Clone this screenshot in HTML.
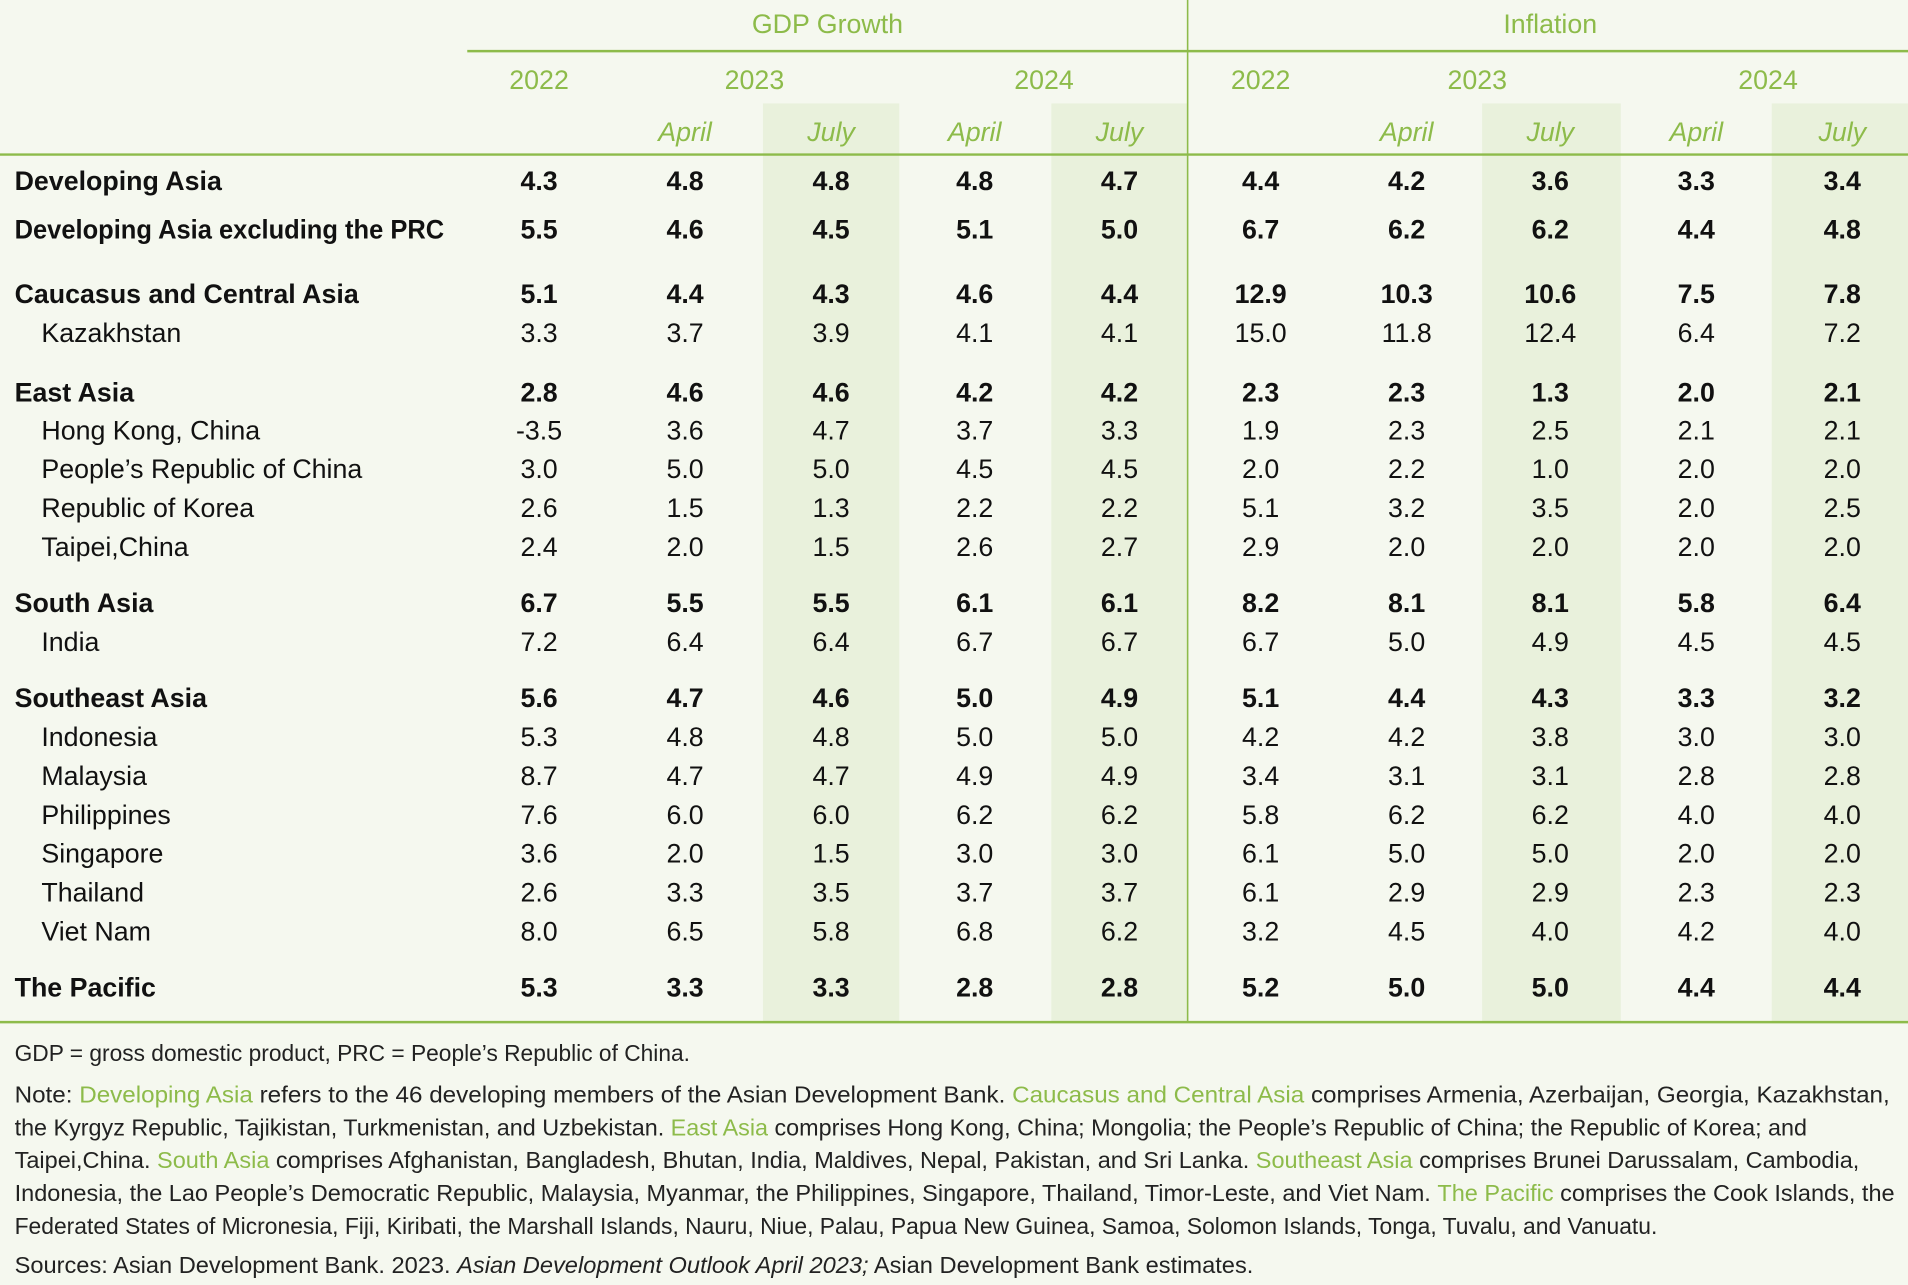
<!DOCTYPE html>
<html><head><meta charset="utf-8"><style>
html,body{margin:0;padding:0;background:#f5f8ef;}
svg{display:block}
text{font-family:"Liberation Sans Narrow","Liberation Sans",sans-serif;}
.g{fill:#8dbb4a}
.n{font-size:22px;text-anchor:middle;fill:#111}
.b{font-weight:bold}
.l{font-size:22px;fill:#111}
.h{font-size:22px;fill:#8dbb4a;text-anchor:middle}
.note{font-size:19px;fill:#222}
</style></head><body>
<svg width="1908" height="1285" viewBox="0 0 1568 1056" xmlns="http://www.w3.org/2000/svg">
<rect width="1568" height="1056" fill="#f5f8ef"/>
<g fill="#e9f1dc">
<rect x="627" y="85" width="112" height="755"/>
<rect x="864" y="85" width="112" height="755"/>
<rect x="1218" y="85" width="114" height="755"/>
<rect x="1456" y="85" width="112" height="755"/>
</g>
<g stroke="#8dbb4a" stroke-width="2">
<line x1="384" y1="42" x2="1568" y2="42"/>
<line x1="0" y1="127" x2="1568" y2="127"/>
<line x1="0" y1="840" x2="1568" y2="840"/>
<line x1="976" y1="0" x2="976" y2="840" stroke-width="1.3"/>
</g>
<text class="h" x="680" y="27">GDP Growth</text>
<text class="h" x="1274" y="27">Inflation</text>
<g class="h">
<text x="443" y="73">2022</text><text x="620" y="73">2023</text><text x="858" y="73">2024</text>
<text x="1036" y="73">2022</text><text x="1214" y="73">2023</text><text x="1453" y="73">2024</text>
</g>
<g class="h" font-style="italic">
<text x="563" y="116">April</text><text x="683" y="116">July</text><text x="801" y="116">April</text><text x="920" y="116">July</text>
<text x="1156" y="116">April</text><text x="1274" y="116">July</text><text x="1394" y="116">April</text><text x="1514" y="116">July</text>
</g>
<g class="note">
<text x="12" y="872" textLength="555" lengthAdjust="spacingAndGlyphs">GDP = gross domestic product, PRC = People’s Republic of China.</text>
<text x="12" y="906" textLength="1541" lengthAdjust="spacingAndGlyphs">Note: <tspan class="g">Developing Asia</tspan> refers to the 46 developing members of the Asian Development Bank. <tspan class="g">Caucasus and Central Asia</tspan> comprises Armenia, Azerbaijan, Georgia, Kazakhstan,</text>
<text x="12" y="933" textLength="1473" lengthAdjust="spacingAndGlyphs">the Kyrgyz Republic, Tajikistan, Turkmenistan, and Uzbekistan. <tspan class="g">East Asia</tspan> comprises Hong Kong, China; Mongolia; the People’s Republic of China; the Republic of Korea; and</text>
<text x="12" y="960" textLength="1516" lengthAdjust="spacingAndGlyphs">Taipei,China. <tspan class="g">South Asia</tspan> comprises Afghanistan, Bangladesh, Bhutan, India, Maldives, Nepal, Pakistan, and Sri Lanka. <tspan class="g">Southeast Asia</tspan> comprises Brunei Darussalam, Cambodia,</text>
<text x="12" y="987" textLength="1545" lengthAdjust="spacingAndGlyphs">Indonesia, the Lao People’s Democratic Republic, Malaysia, Myanmar, the Philippines, Singapore, Thailand, Timor-Leste, and Viet Nam. <tspan class="g">The Pacific</tspan> comprises the Cook Islands, the</text>
<text x="12" y="1014" textLength="1350" lengthAdjust="spacingAndGlyphs">Federated States of Micronesia, Fiji, Kiribati, the Marshall Islands, Nauru, Niue, Palau, Papua New Guinea, Samoa, Solomon Islands, Tonga, Tuvalu, and Vanuatu.</text>
<text x="12" y="1046" textLength="1018" lengthAdjust="spacingAndGlyphs">Sources: Asian Development Bank. 2023. <tspan font-style="italic">Asian Development Outlook April 2023;</tspan> Asian Development Bank estimates.</text>
</g>
<g>
<text class="l b" x="12" y="156">Developing Asia</text>
<text class="l b" x="12" y="196" textLength="353" lengthAdjust="spacingAndGlyphs">Developing Asia excluding the PRC</text>
<text class="l b" x="12" y="249">Caucasus and Central Asia</text>
<text class="l" x="34" y="281">Kazakhstan</text>
<text class="l b" x="12" y="330">East Asia</text>
<text class="l" x="34" y="361">Hong Kong, China</text>
<text class="l" x="34" y="393">People’s Republic of China</text>
<text class="l" x="34" y="425">Republic of Korea</text>
<text class="l" x="34" y="457">Taipei,China</text>
<text class="l b" x="12" y="503">South Asia</text>
<text class="l" x="34" y="535">India</text>
<text class="l b" x="12" y="581">Southeast Asia</text>
<text class="l" x="34" y="613">Indonesia</text>
<text class="l" x="34" y="645">Malaysia</text>
<text class="l" x="34" y="677">Philippines</text>
<text class="l" x="34" y="709">Singapore</text>
<text class="l" x="34" y="741">Thailand</text>
<text class="l" x="34" y="773">Viet Nam</text>
<text class="l b" x="12" y="819">The Pacific</text>
</g>
<g class="n">
<g class="b"><text x="443" y="156">4.3</text><text x="563" y="156">4.8</text><text x="683" y="156">4.8</text><text x="801" y="156">4.8</text><text x="920" y="156">4.7</text><text x="1036" y="156">4.4</text><text x="1156" y="156">4.2</text><text x="1274" y="156">3.6</text><text x="1394" y="156">3.3</text><text x="1514" y="156">3.4</text></g>
<g class="b"><text x="443" y="196">5.5</text><text x="563" y="196">4.6</text><text x="683" y="196">4.5</text><text x="801" y="196">5.1</text><text x="920" y="196">5.0</text><text x="1036" y="196">6.7</text><text x="1156" y="196">6.2</text><text x="1274" y="196">6.2</text><text x="1394" y="196">4.4</text><text x="1514" y="196">4.8</text></g>
<g class="b"><text x="443" y="249">5.1</text><text x="563" y="249">4.4</text><text x="683" y="249">4.3</text><text x="801" y="249">4.6</text><text x="920" y="249">4.4</text><text x="1036" y="249">12.9</text><text x="1156" y="249">10.3</text><text x="1274" y="249">10.6</text><text x="1394" y="249">7.5</text><text x="1514" y="249">7.8</text></g>
<g><text x="443" y="281">3.3</text><text x="563" y="281">3.7</text><text x="683" y="281">3.9</text><text x="801" y="281">4.1</text><text x="920" y="281">4.1</text><text x="1036" y="281">15.0</text><text x="1156" y="281">11.8</text><text x="1274" y="281">12.4</text><text x="1394" y="281">6.4</text><text x="1514" y="281">7.2</text></g>
<g class="b"><text x="443" y="330">2.8</text><text x="563" y="330">4.6</text><text x="683" y="330">4.6</text><text x="801" y="330">4.2</text><text x="920" y="330">4.2</text><text x="1036" y="330">2.3</text><text x="1156" y="330">2.3</text><text x="1274" y="330">1.3</text><text x="1394" y="330">2.0</text><text x="1514" y="330">2.1</text></g>
<g><text x="443" y="361">-3.5</text><text x="563" y="361">3.6</text><text x="683" y="361">4.7</text><text x="801" y="361">3.7</text><text x="920" y="361">3.3</text><text x="1036" y="361">1.9</text><text x="1156" y="361">2.3</text><text x="1274" y="361">2.5</text><text x="1394" y="361">2.1</text><text x="1514" y="361">2.1</text></g>
<g><text x="443" y="393">3.0</text><text x="563" y="393">5.0</text><text x="683" y="393">5.0</text><text x="801" y="393">4.5</text><text x="920" y="393">4.5</text><text x="1036" y="393">2.0</text><text x="1156" y="393">2.2</text><text x="1274" y="393">1.0</text><text x="1394" y="393">2.0</text><text x="1514" y="393">2.0</text></g>
<g><text x="443" y="425">2.6</text><text x="563" y="425">1.5</text><text x="683" y="425">1.3</text><text x="801" y="425">2.2</text><text x="920" y="425">2.2</text><text x="1036" y="425">5.1</text><text x="1156" y="425">3.2</text><text x="1274" y="425">3.5</text><text x="1394" y="425">2.0</text><text x="1514" y="425">2.5</text></g>
<g><text x="443" y="457">2.4</text><text x="563" y="457">2.0</text><text x="683" y="457">1.5</text><text x="801" y="457">2.6</text><text x="920" y="457">2.7</text><text x="1036" y="457">2.9</text><text x="1156" y="457">2.0</text><text x="1274" y="457">2.0</text><text x="1394" y="457">2.0</text><text x="1514" y="457">2.0</text></g>
<g class="b"><text x="443" y="503">6.7</text><text x="563" y="503">5.5</text><text x="683" y="503">5.5</text><text x="801" y="503">6.1</text><text x="920" y="503">6.1</text><text x="1036" y="503">8.2</text><text x="1156" y="503">8.1</text><text x="1274" y="503">8.1</text><text x="1394" y="503">5.8</text><text x="1514" y="503">6.4</text></g>
<g><text x="443" y="535">7.2</text><text x="563" y="535">6.4</text><text x="683" y="535">6.4</text><text x="801" y="535">6.7</text><text x="920" y="535">6.7</text><text x="1036" y="535">6.7</text><text x="1156" y="535">5.0</text><text x="1274" y="535">4.9</text><text x="1394" y="535">4.5</text><text x="1514" y="535">4.5</text></g>
<g class="b"><text x="443" y="581">5.6</text><text x="563" y="581">4.7</text><text x="683" y="581">4.6</text><text x="801" y="581">5.0</text><text x="920" y="581">4.9</text><text x="1036" y="581">5.1</text><text x="1156" y="581">4.4</text><text x="1274" y="581">4.3</text><text x="1394" y="581">3.3</text><text x="1514" y="581">3.2</text></g>
<g><text x="443" y="613">5.3</text><text x="563" y="613">4.8</text><text x="683" y="613">4.8</text><text x="801" y="613">5.0</text><text x="920" y="613">5.0</text><text x="1036" y="613">4.2</text><text x="1156" y="613">4.2</text><text x="1274" y="613">3.8</text><text x="1394" y="613">3.0</text><text x="1514" y="613">3.0</text></g>
<g><text x="443" y="645">8.7</text><text x="563" y="645">4.7</text><text x="683" y="645">4.7</text><text x="801" y="645">4.9</text><text x="920" y="645">4.9</text><text x="1036" y="645">3.4</text><text x="1156" y="645">3.1</text><text x="1274" y="645">3.1</text><text x="1394" y="645">2.8</text><text x="1514" y="645">2.8</text></g>
<g><text x="443" y="677">7.6</text><text x="563" y="677">6.0</text><text x="683" y="677">6.0</text><text x="801" y="677">6.2</text><text x="920" y="677">6.2</text><text x="1036" y="677">5.8</text><text x="1156" y="677">6.2</text><text x="1274" y="677">6.2</text><text x="1394" y="677">4.0</text><text x="1514" y="677">4.0</text></g>
<g><text x="443" y="709">3.6</text><text x="563" y="709">2.0</text><text x="683" y="709">1.5</text><text x="801" y="709">3.0</text><text x="920" y="709">3.0</text><text x="1036" y="709">6.1</text><text x="1156" y="709">5.0</text><text x="1274" y="709">5.0</text><text x="1394" y="709">2.0</text><text x="1514" y="709">2.0</text></g>
<g><text x="443" y="741">2.6</text><text x="563" y="741">3.3</text><text x="683" y="741">3.5</text><text x="801" y="741">3.7</text><text x="920" y="741">3.7</text><text x="1036" y="741">6.1</text><text x="1156" y="741">2.9</text><text x="1274" y="741">2.9</text><text x="1394" y="741">2.3</text><text x="1514" y="741">2.3</text></g>
<g><text x="443" y="773">8.0</text><text x="563" y="773">6.5</text><text x="683" y="773">5.8</text><text x="801" y="773">6.8</text><text x="920" y="773">6.2</text><text x="1036" y="773">3.2</text><text x="1156" y="773">4.5</text><text x="1274" y="773">4.0</text><text x="1394" y="773">4.2</text><text x="1514" y="773">4.0</text></g>
<g class="b"><text x="443" y="819">5.3</text><text x="563" y="819">3.3</text><text x="683" y="819">3.3</text><text x="801" y="819">2.8</text><text x="920" y="819">2.8</text><text x="1036" y="819">5.2</text><text x="1156" y="819">5.0</text><text x="1274" y="819">5.0</text><text x="1394" y="819">4.4</text><text x="1514" y="819">4.4</text></g>
</g>
</svg>
</body></html>
